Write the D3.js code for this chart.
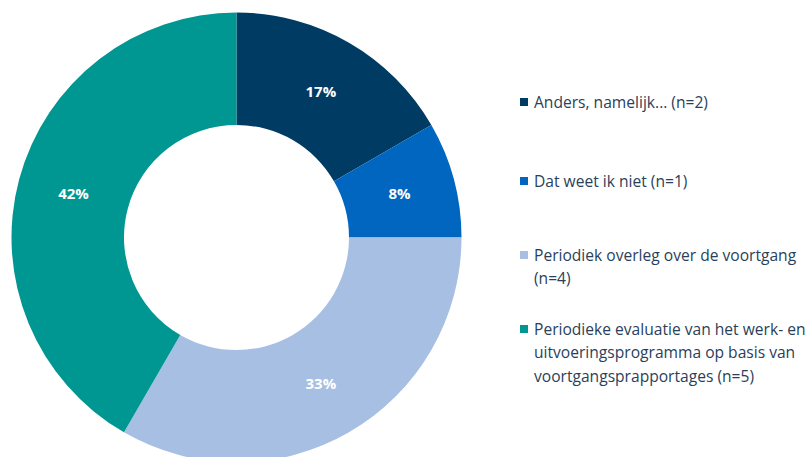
<!DOCTYPE html>
<html>
<head>
  <meta charset="utf-8">
  <script src="https://cdn.jsdelivr.net/npm/d3@7/dist/d3.min.js"></script>
</head>
<style>
  body { margin: 0; background: #fff; }
  svg { display: block; }
</style>
<body>
  <svg width="811" height="457" id="chart"></svg>
  <script>
    // data
    var categories = ['Anders, namelijk... (n=2)', 'Dat weet ik niet (n=1)', 'Periodiek overleg over de voortgang (n=4)', 'Periodieke evaluatie van het werk- en uitvoeringsprogramma op basis van voortgangsprapportages (n=5)'];
    var counts = [2, 1, 4, 5];
    var pctLabels = ['17%', '8%', '33%', '42%'];
    var legendLines = [
      ['Anders, namelijk... (n=2)'],
      ['Dat weet ik niet (n=1)'],
      ['Periodiek overleg over de voortgang', '(n=4)'],
      ['Periodieke evaluatie van het werk- en', 'uitvoeringsprogramma op basis van', 'voortgangsprapportages (n=5)']
    ];
    var colors = ['#003B64', '#0066BF', '#A6BFE2', '#009691'];

    var svg = d3.select('#chart');
    var cx = 236.5, cy = 237.5, outerR = 225, innerR = 112.5;

    var pie = d3.pie().sort(null).value(function (d) { return d; });
    var arc = d3.arc().innerRadius(innerR).outerRadius(outerR);
    var arcs = pie(counts);

    var g = svg.append('g').attr('transform', 'translate(' + cx + ',' + cy + ')');
    g.selectAll('path')
      .data(arcs)
      .enter()
      .append('path')
      .attr('d', arc)
      .attr('fill', function (d, i) { return colors[i]; });

    g.selectAll('text')
      .data(arcs)
      .enter()
      .append('text')
      .attr('x', function (d) { return arc.centroid(d)[0]; })
      .attr('y', function (d) { return arc.centroid(d)[1]; })
      .attr('dy', '0.36em')
      .attr('text-anchor', 'middle')
      .attr('fill', 'white')
      .attr('font-family', 'Open Sans, sans-serif')
      .attr('font-weight', 'bold')
      .attr('font-size', '15px')
      .text(function (d, i) { return pctLabels[i]; });

    // legend
    var legendY = [102, 181, 255, 329];
    var lineH = 23.5;
    var legend = svg.selectAll('.legend')
      .data(categories)
      .enter()
      .append('g')
      .attr('class', 'legend')
      .attr('transform', function (d, i) { return 'translate(520,' + legendY[i] + ')'; });

    legend.append('rect')
      .attr('x', 0)
      .attr('y', -4)
      .attr('width', 8)
      .attr('height', 8)
      .attr('fill', function (d, i) { return colors[i]; });

    legend.each(function (d, i) {
      var t = d3.select(this).append('text')
        .attr('x', 14)
        .attr('y', 0)
        .attr('fill', '#2A3F5A')
        .attr('font-family', 'Open Sans, sans-serif')
        .attr('font-size', '15.6px');
      legendLines[i].forEach(function (line, j) {
        t.append('tspan')
          .attr('x', 14)
          .attr('y', j * lineH)
          .attr('dy', '0.36em')
          .text(line);
      });
    });
  </script>
</body>
</html>
